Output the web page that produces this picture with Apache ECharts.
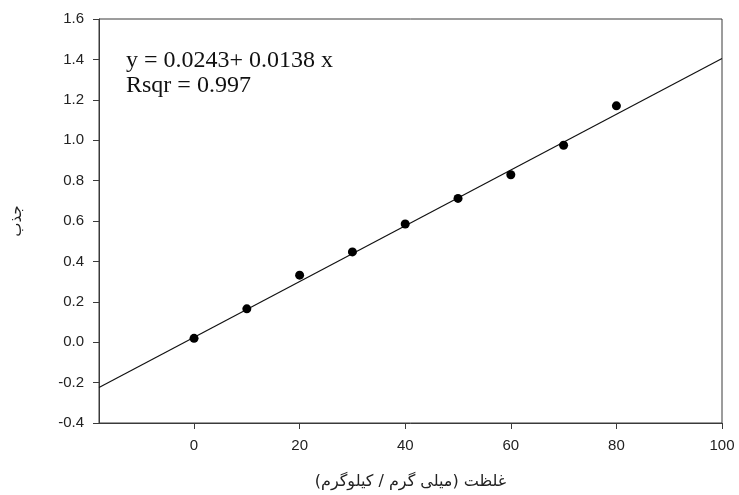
<!DOCTYPE html>
<html>
<head>
<meta charset="utf-8">
<script src="https://cdn.jsdelivr.net/npm/echarts@6/dist/echarts.min.js"></script>
<style>
  html, body { margin: 0; padding: 0; background: #fff; }
  #chart { width: 739px; height: 495px; }
</style>
</head>
<body>
<div id="chart"></div>
<script>
// Calibration measurements: concentration vs absorbance
const concentration = [0, 10, 20, 30, 40, 50, 60, 70, 80];
const absorbance = [0.019, 0.165, 0.332, 0.447, 0.585, 0.712, 0.829, 0.975, 1.170];

// Linear fit coefficients as printed in the annotation
const fitIntercept = 0.0243;
const fitSlope = 0.0138;
const rsqr = 0.997;

// Axis ranges and tick positions
const xRange = [-18, 100];
const xTicks = [0, 20, 40, 60, 80, 100];
const yRange = [-0.4, 1.6];
const yStep = 0.2;

const xTitle = 'غلظت (میلی گرم / کیلوگرم)';
const yTitle = 'جذب';

const points = concentration.map((c, i) => [c, absorbance[i]]);
const fitLine = xRange.map(x => [x, fitIntercept + fitSlope * x]);

const axisColor = '#3a3a3a';
const sans = 'Liberation Sans, Arial, sans-serif';

const chart = echarts.init(document.getElementById('chart'));
chart.setOption({
  animation: false,
  backgroundColor: '#fff',
  grid: {
    left: 99, right: 17, top: 19, bottom: 71,
    show: true, borderColor: axisColor, borderWidth: 1
  },
  xAxis: {
    type: 'value',
    min: xRange[0], max: xRange[1],
    name: xTitle,
    nameLocation: 'middle',
    nameGap: 51,
    nameTextStyle: { fontFamily: 'DejaVu Sans, sans-serif', fontSize: 16, color: '#222' },
    axisLine: { show: true, onZero: false, lineStyle: { color: axisColor, width: 1 } },
    axisTick: { show: true, inside: false, length: 6, customValues: xTicks, lineStyle: { color: axisColor } },
    axisLabel: { customValues: xTicks, margin: 15, fontFamily: sans, fontSize: 15, color: '#222' },
    splitLine: { show: false }
  },
  yAxis: {
    type: 'value',
    min: yRange[0], max: yRange[1], interval: yStep,
    name: yTitle,
    nameLocation: 'middle',
    nameGap: 74,
    nameTextStyle: { fontFamily: 'DejaVu Sans, sans-serif', fontSize: 15, color: '#222' },
    axisLine: { show: true, onZero: false, lineStyle: { color: axisColor, width: 1 } },
    axisTick: { show: true, inside: false, length: 6, lineStyle: { color: axisColor } },
    axisLabel: {
      margin: 15, fontFamily: sans, fontSize: 15, color: '#222',
      formatter: v => v.toFixed(1)
    },
    splitLine: { show: false }
  },
  graphic: [
    {
      type: 'text', left: 126, top: 48,
      style: {
        text: 'y = ' + fitIntercept.toFixed(4) + '+ ' + fitSlope.toFixed(4) + ' x\nRsqr = ' + rsqr.toFixed(3),
        font: '24px "Liberation Serif", "Times New Roman", serif',
        lineHeight: 25,
        fill: '#111'
      }
    }
  ],
  series: [
    {
      type: 'line',
      data: fitLine,
      showSymbol: false,
      symbol: 'none',
      lineStyle: { color: '#111', width: 1.2 },
      silent: true,
      z: 2
    },
    {
      type: 'scatter',
      data: points,
      symbol: 'circle',
      symbolSize: 9,
      itemStyle: { color: '#000', opacity: 1 },
      z: 3
    }
  ]
});
</script>
</body>
</html>
